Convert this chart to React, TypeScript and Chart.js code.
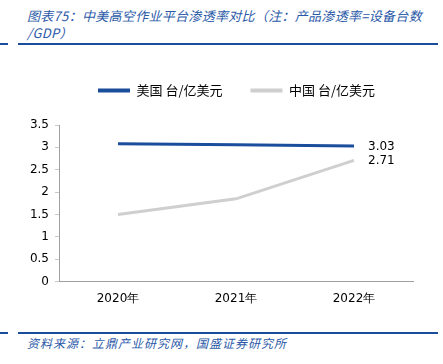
import React, { useEffect, useRef } from "react";
import { Chart, registerables } from "chart.js";

Chart.register(...registerables);

const categories = ["2020年", "2021年", "2022年"];
const usValues = [3.08, 3.06, 3.03];
const cnValues = [1.5, 1.85, 2.71];
const seriesNames = ["美国 台/亿美元", "中国 台/亿美元"];
const lastLabels = ["3.03", "2.71"];
const titleLine1 = "图表75：中美高空作业平台渗透率对比（注：产品渗透率=设备台数";
const titleLine2 = "/GDP）";
const sourceText = "资料来源：立鼎产业研究网，国盛证券研究所";

const BLUE = "#1A4D9C";
const GRAY = "#CFCFCF";

const endLabelPlugin = {
  id: "endLabels",
  afterDatasetsDraw(chart: any) {
    const ctx = chart.ctx;
    ctx.save();
    ctx.font = "12px 'DejaVu Sans'";
    ctx.fillStyle = "#000";
    ctx.textAlign = "left";
    ctx.textBaseline = "middle";
    chart.data.datasets.forEach((ds: any, i: number) => {
      const meta = chart.getDatasetMeta(i);
      const pt = meta.data[meta.data.length - 1];
      ctx.fillText(lastLabels[i], pt.x + 14, pt.y + 1);
    });
    ctx.restore();
  },
};

const legendShiftPlugin = {
  id: "legendShift",
  beforeLayout(chart: any) {
    const lg = chart.legend;
    if (lg && !lg._patched) {
      const orig = lg.fit;
      lg.fit = function () {
        orig.call(this);
        this.height += 18;
      };
      lg._patched = true;
    }
  },
  afterLayout(chart: any) {
    const lg = chart.legend;
    if (lg) {
      lg.left += 30;
      lg.right += 30;
    }
  },
};

export default function App() {
  const ref = useRef<HTMLCanvasElement>(null);
  useEffect(() => {
    document.body.style.margin = "0";
    const chart = new Chart(ref.current!, {
      type: "line",
      data: {
        labels: categories,
        datasets: [
          {
            label: seriesNames[0],
            data: usValues,
            borderColor: BLUE,
            backgroundColor: BLUE,
            borderWidth: 3,
            pointRadius: 0,
            tension: 0,
          },
          {
            label: seriesNames[1],
            data: cnValues,
            borderColor: GRAY,
            backgroundColor: GRAY,
            borderWidth: 3,
            pointRadius: 0,
            tension: 0,
          },
        ],
      },
      options: {
        animation: false,
        responsive: false,
        layout: { padding: { left: 0, right: 30, top: 0, bottom: 12 } },
        plugins: {
          tooltip: { enabled: false },
          legend: {
            position: "top",
            labels: {
              boxWidth: 32,
              boxHeight: 4,
              padding: 28,
              color: "#000",
              font: { family: "'Noto Sans CJK SC'", size: 13 },
              generateLabels(chart: any) {
                return chart.data.datasets.map((ds: any, i: number) => ({
                  text: ds.label,
                  fillStyle: ds.borderColor,
                  strokeStyle: ds.borderColor,
                  lineWidth: 0,
                  datasetIndex: i,
                  hidden: false,
                }));
              },
            },
          },
        },
        scales: {
          x: {
            offset: true,
            grid: { display: false },
            border: { display: true, color: "#A0A0A0", width: 1 },
            ticks: {
              color: "#000",
              font: { family: "'DejaVu Sans'", size: 12 },
              padding: 2,
            },
          },
          y: {
            min: 0,
            max: 3.5,
            afterFit(scale: any) {
              scale.width = 59;
            },
            grid: {
              drawOnChartArea: false,
              tickLength: 4,
              color: "#C8C8C8",
            },
            border: { display: true, color: "#A0A0A0", width: 1 },
            ticks: {
              stepSize: 0.5,
              color: "#000",
              font: { family: "'DejaVu Sans'", size: 12 },
              padding: 6,
              callback(v: any) {
                return String(v);
              },
            },
          },
        },
      },
      plugins: [endLabelPlugin, legendShiftPlugin],
    });
    return () => chart.destroy();
  }, []);

  const titleStyle: React.CSSProperties = {
    position: "absolute",
    left: 27,
    top: 7,
    fontFamily: "'Noto Sans CJK SC'",
    fontStyle: "italic",
    fontSize: 13,
    lineHeight: "17px",
    letterSpacing: "0.3px",
    color: "#2A59A8",
    whiteSpace: "nowrap",
  };

  return (
    <div style={{ position: "relative", width: 443, height: 364, background: "#fff", overflow: "hidden" }}>
      <div style={titleStyle}>
        {titleLine1}
        <br />
        {titleLine2}
      </div>
      <div style={{ position: "absolute", left: 0, top: 43, width: 8, height: 2, background: BLUE }} />
      <div style={{ position: "absolute", left: 18, top: 43, width: 420, height: 2, background: BLUE }} />
      <canvas ref={ref} width={443} height={264} style={{ position: "absolute", left: 0, top: 56, width: 443, height: 264 }} />
      <div style={{ position: "absolute", left: 0, top: 332, width: 8, height: 2, background: BLUE }} />
      <div style={{ position: "absolute", left: 18, top: 332, width: 420, height: 2, background: BLUE }} />
      <div
        style={{
          position: "absolute",
          left: 27,
          top: 335,
          fontFamily: "'Noto Sans CJK SC'",
          fontStyle: "italic",
          fontSize: 12,
          lineHeight: "16px",
          letterSpacing: "1px",
          color: "#2A59A8",
          whiteSpace: "nowrap",
        }}
      >
        {sourceText}
      </div>
    </div>
  );
}
